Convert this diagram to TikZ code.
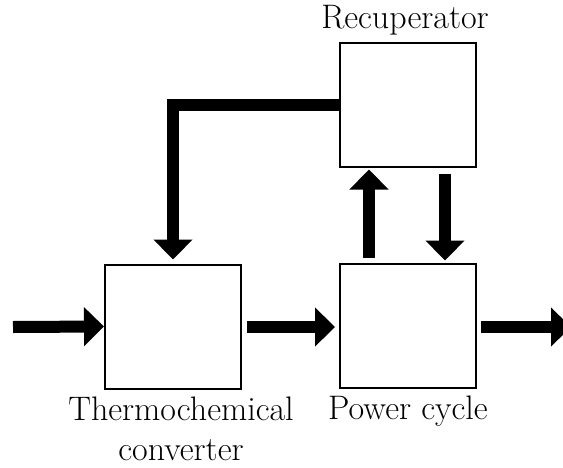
\documentclass[tikz,border=0pt]{standalone}
\usepackage{tikz}
\usetikzlibrary{arrows.meta,positioning,calc}

\begin{document}
\begin{tikzpicture}[
    x=0.5pt, y=-0.5pt,
    unit/.style={draw=black, line width=1pt, fill=white, minimum width=68pt, minimum height=62pt, inner sep=0pt},
    caption/.style={font=\fontsize{17}{20}\selectfont, inner sep=0pt, align=center},
    flow/.style={draw=black, line width=6pt, -{Triangle[width=19pt,length=10pt]}}
]
\useasboundingbox (0,0) rectangle (563,467);

% Units
\node[unit] (recup) at (408,104.5) {};
\node[unit] (thermo) at (173,326.5) {};
\node[unit] (power) at (408,325.5) {};

% Labels
\node[caption, above=3.2pt of recup, xshift=-1.5pt] (recuplbl) {Recuperator};
\node[caption, below=3.7pt of thermo, xshift=4pt] (thermolbl) {Thermochemical\\converter};
\node[caption, below=3.7pt of power] (powerlbl) {Power cycle};

% Free ends
\coordinate (inlet) at (13,327);
\coordinate (outlet) at (571,327);

% Flows
\draw[flow] (inlet) -- (thermo.west);
\draw[flow, shorten <=2.5pt, shorten >=2pt] (thermo.east |- inlet) -- (power.west |- inlet);
\draw[flow, shorten <=2pt] (power.east |- inlet) -- (outlet);
\draw[flow, shorten >=2pt] (recup.west) -| (thermo.north);
\draw[flow, shorten <=2.5pt, shorten >=1pt] ($(power.north)+(-39,0)$) -- ($(recup.south)+(-39,0)$);
\draw[flow, shorten <=3pt, shorten >=1pt] ($(recup.south)+(37,0)$) -- ($(power.north)+(37,0)$);

\end{tikzpicture}
\end{document}
